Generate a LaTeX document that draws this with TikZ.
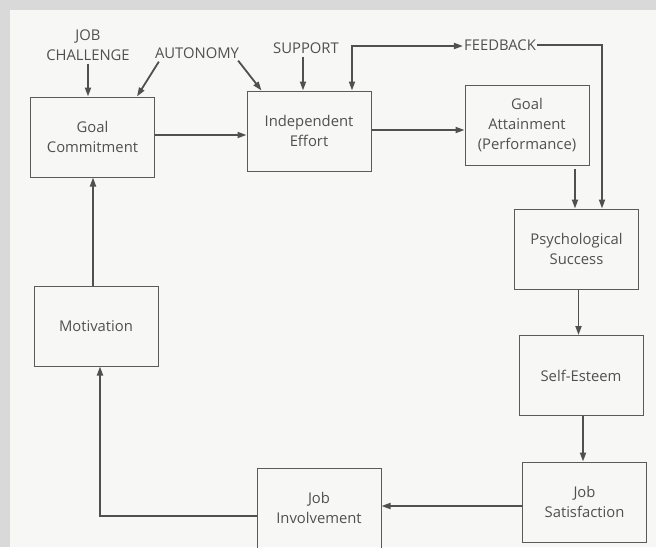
\documentclass[tikz,border=0pt]{standalone}
\usepackage{fontspec}
\setmainfont{Open Sans}
\usetikzlibrary{arrows.meta}
\definecolor{pagec}{HTML}{F7F7F5}
\definecolor{marginc}{HTML}{D9D9D9}
\definecolor{boxc}{HTML}{5A5A5A}
\definecolor{arrc}{HTML}{505050}
\definecolor{txtc}{HTML}{505050}
\newcommand\dgfont{\fontsize{14.8}{20}\selectfont}
\begin{document}
\begin{tikzpicture}[x=1pt,y=-1pt,
  box/.style={draw=boxc, line width=1pt, minimum width=124pt, minimum height=80pt,
    inner sep=0pt, align=center, font=\dgfont, text=txtc},
  lbl/.style={font=\dgfont, text=txtc, inner sep=1pt, align=center},
  arr/.style={draw=arrc, line width=1.8pt, -{Triangle[length=9pt,width=6pt]}},
  darr/.style={draw=arrc, line width=1.8pt, {Triangle[length=9pt,width=6pt]}-{Triangle[length=9pt,width=6pt]}}]
\useasboundingbox (0,0) rectangle (656,547);
\fill[pagec] (0,0) rectangle (656,547);
\fill[marginc] (0,0) rectangle (656,10);
\fill[marginc] (0,0) rectangle (10,547);

% boxes
\node[box] (gc) at (92.5,137) {Goal\\Commitment};
\node[box] (ie) at (309,131) {Independent\\Effort};
\node[box] (ga) at (527,125.5) {Goal\\Attainment\\(Performance)};
\node[box] (ps) at (576.5,249) {Psychological\\Success};
\node[box] (se) at (581,375.5) {Self-Esteem};
\node[box] (js) at (584.5,502) {Job\\Satisfaction};
\node[box] (ji) at (319,508) {Job\\Involvement};
\node[box] (mo) at (96,326) {Motivation};

% labels
\node[lbl] (jc) at (88,45) {JOB\\CHALLENGE};
\node[lbl] (au) at (197,53) {AUTONOMY};
\node[lbl] (su) at (306,48) {SUPPORT};
\node[lbl] (fb) at (500,45) {FEEDBACK};

% connectors
\draw[arr] ([yshift=-2pt]jc.south) -- (jc.south |- gc.north);
\draw[arr] ([xshift=5pt,yshift=-2pt]au.south west) -- ([xshift=-18pt]gc.north east);
\draw[arr] ([xshift=-2pt,yshift=-1pt]au.south east) -- ([xshift=15pt]ie.north west);
\draw[arr] ([xshift=-3pt,yshift=-2pt]su.south) -- ([xshift=-3pt]su.south |- ie.north);
\draw[arr] ([yshift=2pt]gc.east) -- ([yshift=2pt]gc.east -| ie.west);
\draw[arr] ([yshift=1pt]ie.east) -- ([yshift=1pt]ie.east -| ga.west);

\coordinate (fc) at (352,46);
\coordinate (fr) at (602,45);
\draw[darr] (fc |- ie.north) -- (fc) -- (fc -| fb.west);
\draw[arr] (fb.east) -- (fr) -- (fr |- ps.north);

\draw[arr] ([xshift=48pt,yshift=-3pt]ga.south) -- ([xshift=48pt]ga.south |- ps.north);
\draw[arr] ([xshift=2pt]ps.south) -- ([xshift=2pt]ps.south |- se.north);
\draw[arr] ([xshift=2pt]se.south) -- ([xshift=2pt]se.south |- js.north);
\draw[arr] ([yshift=-4pt]js.west) -- ([yshift=-4pt]js.west -| ji.east);
\draw[arr] ([yshift=-8pt]ji.west) -| ([xshift=4pt]mo.south);
\draw[arr] ([xshift=-3pt]mo.north) -- ([xshift=-3pt]mo.north |- gc.south);
\end{tikzpicture}
\end{document}
